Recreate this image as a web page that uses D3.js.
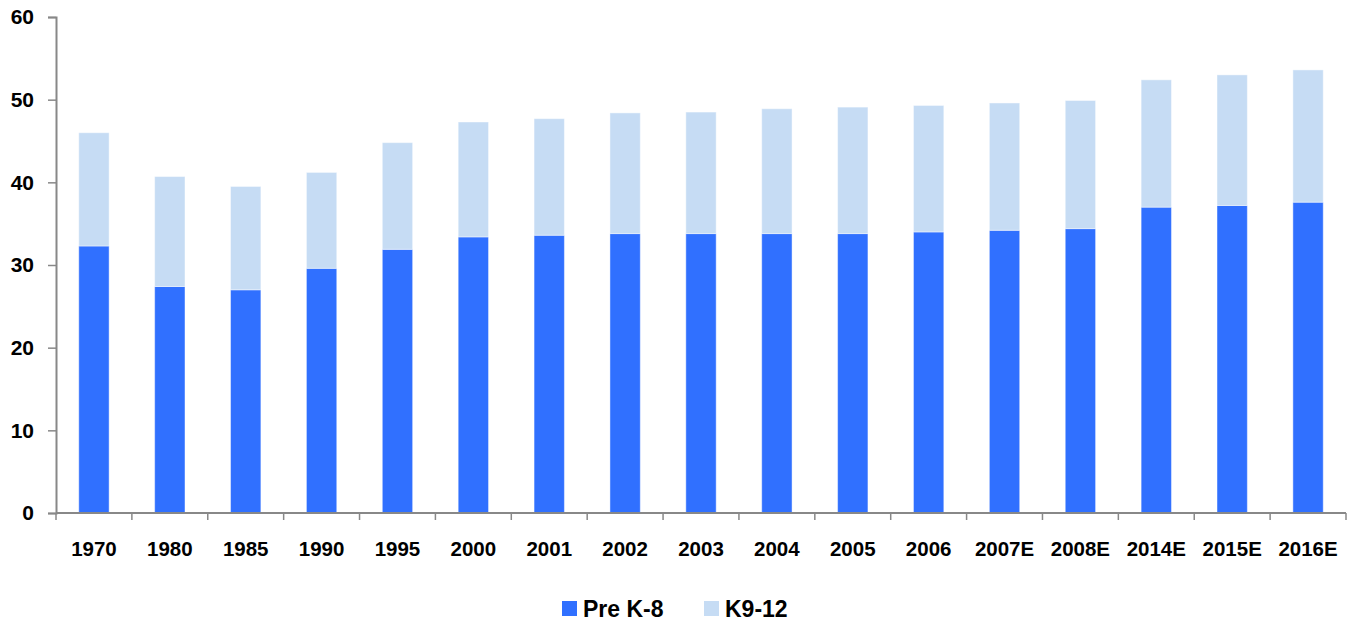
<!DOCTYPE html>
<html>
<head>
<meta charset="utf-8">
<script src="https://cdn.jsdelivr.net/npm/d3@7"></script>
<style>
  html, body { margin: 0; padding: 0; background: #fff; }
  svg { display: block; font-family: "Liberation Sans", Arial, sans-serif; font-weight: bold; }
</style>
</head>
<body>
<svg id="chart" width="1358" height="628"></svg>
<script>
// School enrollment (millions), stacked by level
const years = ["1970","1980","1985","1990","1995","2000","2001","2002","2003","2004","2005","2006","2007E","2008E","2014E","2015E","2016E"];
const preK8 = [32.3, 27.4, 27.0, 29.6, 31.9, 33.4, 33.6, 33.8, 33.8, 33.8, 33.8, 34.0, 34.2, 34.4, 37.0, 37.2, 37.6];
const k912  = [13.7, 13.3, 12.5, 11.6, 12.9, 13.9, 14.1, 14.6, 14.7, 15.1, 15.3, 15.3, 15.4, 15.5, 15.4, 15.8, 16.0];
const seriesNames = ["Pre K-8", "K9-12"];
const seriesColors = ["#3070FF", "#C6DCF4"];
const yTicks = [0, 10, 20, 30, 40, 50, 60];

const svg = d3.select("#chart");
const margin = { left: 56, right: 12, top: 17, bottom: 115 };
const width = 1358, height = 628;

const x = d3.scaleBand()
  .domain(years)
  .range([margin.left, width - margin.right])
  .paddingInner(0.6)
  .paddingOuter(0.3);

const y = d3.scaleLinear()
  .domain([0, 60])
  .range([height - margin.bottom, margin.top]);

const rows = years.map((yr, i) => ({ year: yr, "Pre K-8": preK8[i], "K9-12": k912[i] }));
const stacked = d3.stack().keys(seriesNames)(rows);

// bars
svg.append("g")
  .selectAll("g")
  .data(stacked)
  .join("g")
  .attr("fill", (d, i) => seriesColors[i])
  .selectAll("rect")
  .data(d => d)
  .join("rect")
  .attr("x", d => x(d.data.year))
  .attr("width", x.bandwidth())
  .attr("y", d => y(d[1]))
  .attr("height", d => y(d[0]) - y(d[1]))
  .attr("stroke", "rgba(255,255,255,0.45)")
  .attr("stroke-width", 1);

const axisColor = "#888";

// y axis
const yAxis = svg.append("g")
  .attr("transform", `translate(${margin.left},0)`)
  .call(d3.axisLeft(y).tickValues(yTicks).tickSize(8).tickPadding(14).tickFormat(d3.format("d")));
yAxis.select(".domain").attr("stroke", axisColor).attr("stroke-width", 2);
yAxis.selectAll(".tick line").attr("stroke", axisColor).attr("stroke-width", 1.5);
yAxis.selectAll(".tick text")
  .attr("fill", "#000")
  .style("font-size", "21px")
  .style("font-weight", "bold");

// x axis: ticks sit on category boundaries
const xBase = y(0);
const xAxisG = svg.append("g");
xAxisG.append("line")
  .attr("x1", margin.left).attr("x2", width - margin.right)
  .attr("y1", xBase).attr("y2", xBase)
  .attr("stroke", axisColor).attr("stroke-width", 2);
const boundaries = d3.range(years.length + 1).map(i => x.range()[0] + i * (x.range()[1] - x.range()[0]) / years.length);
xAxisG.selectAll("line.tick")
  .data(boundaries)
  .join("line")
  .attr("class", "tick")
  .attr("x1", d => d).attr("x2", d => d)
  .attr("y1", xBase).attr("y2", xBase + 7)
  .attr("stroke", axisColor).attr("stroke-width", 1.5);
xAxisG.selectAll("text")
  .data(years)
  .join("text")
  .attr("x", d => x(d) + x.bandwidth() / 2)
  .attr("y", xBase + 43)
  .attr("text-anchor", "middle")
  .style("font-size", "20.5px")
  .attr("fill", "#000")
  .text(d => d);

// legend
const legend = svg.append("g").attr("transform", "translate(0,609)");
const legendItems = [
  { name: seriesNames[0], color: seriesColors[0], x: 562 },
  { name: seriesNames[1], color: seriesColors[1], x: 704 }
];
legendItems.forEach(it => {
  legend.append("rect")
    .attr("x", it.x).attr("y", -8)
    .attr("width", 15).attr("height", 15)
    .attr("fill", it.color);
  legend.append("text")
    .attr("x", it.x + 21).attr("y", 8)
    .style("font-size", "23px")
    .attr("fill", "#000")
    .text(it.name);
});
</script>
</body>
</html>
